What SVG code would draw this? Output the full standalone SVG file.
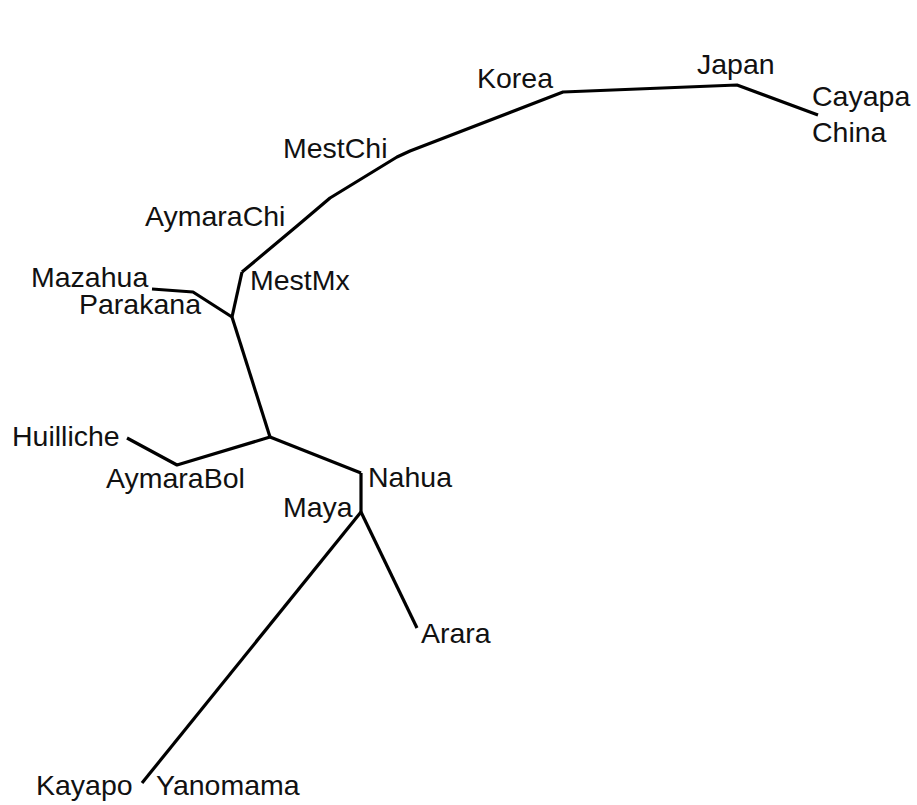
<svg xmlns="http://www.w3.org/2000/svg" width="917" height="805" viewBox="0 0 917 805">
<style>
.br{fill:none;stroke:#000;stroke-width:3.2;stroke-linejoin:round;stroke-linecap:butt}
text{font-family:"Liberation Sans",Arial,sans-serif;font-size:28.5px;fill:#111}
</style>
<rect width="917" height="805" fill="#fff"/>
<g id="connectors">
<polyline class="br" points="142,783 361,512"/>
<polyline class="br" points="361,512 417,628"/>
<polyline class="br" points="361,512 361,473"/>
<polyline class="br" points="361,473 270,437"/>
<polyline class="br" points="270,437 177,465 127,438"/>
<polyline class="br" points="270,437 232,317"/>
<polyline class="br" points="232,317 193,292 152,289"/>
<polyline class="br" points="232,317 242,272"/>
<polyline class="br" points="242,272 297,226 330,198 397,157 410,151 563,92 737,85 818,115"/>
</g>
<g id="node-korea"><text x="477" y="88">Korea</text></g>
<g id="node-japan"><text x="697" y="74">Japan</text></g>
<g id="node-cayapa"><text x="812" y="106">Cayapa</text></g>
<g id="node-china"><text x="812" y="142">China</text></g>
<g id="node-mestchi"><text x="283" y="158">MestChi</text></g>
<g id="node-aymarachi"><text x="145" y="226">AymaraChi</text></g>
<g id="node-mazahua"><text x="31" y="287">Mazahua</text></g>
<g id="node-parakana"><text x="79" y="314">Parakana</text></g>
<g id="node-mestmx"><text x="250" y="290">MestMx</text></g>
<g id="node-huilliche"><text x="12" y="446">Huilliche</text></g>
<g id="node-aymarabol"><text x="106" y="488">AymaraBol</text></g>
<g id="node-nahua"><text x="368" y="487">Nahua</text></g>
<g id="node-maya"><text x="283" y="517">Maya</text></g>
<g id="node-arara"><text x="421" y="643">Arara</text></g>
<g id="node-kayapo"><text x="36" y="795">Kayapo</text></g>
<g id="node-yanomama"><text x="156" y="795">Yanomama</text></g>
</svg>
